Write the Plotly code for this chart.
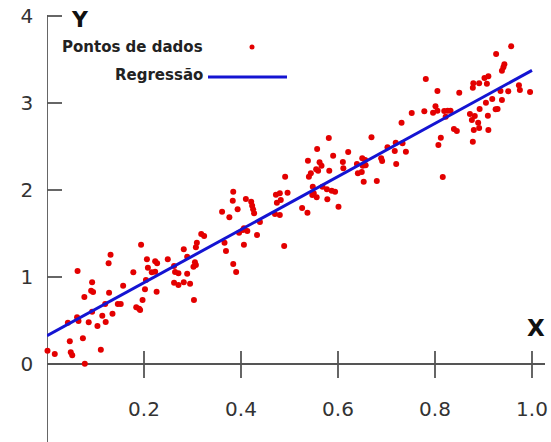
import plotly.graph_objects as go

# Observed data points (X, Y)
data_x = [
    0.194, 0.131, 0.127, 0.063, 0.206, 0.223, 0.227, 0.249, 0.208, 0.216,
    0.223, 0.178, 0.093, 0.091, 0.095, 0.077, 0.128, 0.157, 0.204, 0.226,
    0.202, 0.146, 0.152, 0.197, 0.184, 0.190, 0.192, 0.120, 0.093, 0.135,
    0.114, 0.062, 0.065, 0.043, 0.086, 0.104, 0.121, 0.074, 0.047, 0.111,
    0.001, 0.016, 0.049, 0.052, 0.078,
    0.491, 0.384, 0.383, 0.410, 0.421, 0.423, 0.425, 0.427, 0.393, 0.361,
    0.376, 0.472, 0.480, 0.474, 0.482, 0.496, 0.470, 0.480, 0.439, 0.406,
    0.413, 0.396, 0.404, 0.433, 0.406, 0.366, 0.369, 0.318, 0.324, 0.309,
    0.307, 0.282, 0.289, 0.305, 0.302, 0.307, 0.262, 0.264, 0.271, 0.289,
    0.262, 0.271, 0.282, 0.295, 0.384, 0.390, 0.303, 0.489,
    0.731, 0.669, 0.581, 0.557, 0.590, 0.621, 0.538, 0.562, 0.566, 0.555,
    0.559, 0.544, 0.540, 0.582, 0.610, 0.611, 0.639, 0.650, 0.656, 0.657,
    0.651, 0.641, 0.649, 0.653, 0.680, 0.689, 0.691, 0.702, 0.719, 0.717,
    0.733, 0.740, 0.720, 0.548, 0.550, 0.547, 0.568, 0.577, 0.587, 0.594,
    0.556, 0.578, 0.601, 0.526, 0.537, 0.752,
    0.957, 0.926, 0.943, 0.941, 0.938, 0.902, 0.910, 0.781, 0.879, 0.891,
    0.907, 0.878, 0.805, 0.850, 0.935, 0.951, 0.973, 0.975, 0.996, 0.938,
    0.918, 0.905, 0.892, 0.929, 0.925, 0.778, 0.801, 0.805, 0.796, 0.819,
    0.826, 0.832, 0.822, 0.872, 0.882, 0.876, 0.889, 0.891, 0.909, 0.910,
    0.880, 0.839, 0.845, 0.812, 0.807, 0.878, 0.816,
]
data_y = [
    1.371, 1.256, 1.157, 1.069, 1.203, 1.180, 1.157, 1.203, 1.107, 1.054,
    1.061, 1.054, 0.939, 0.843, 0.828, 0.770, 0.820, 0.900, 0.966, 0.831,
    0.859, 0.690, 0.690, 0.736, 0.652, 0.636, 0.621, 0.690, 0.601, 0.578,
    0.555, 0.537, 0.494, 0.475, 0.479, 0.437, 0.483, 0.295, 0.261, 0.164,
    0.153, 0.115, 0.134, 0.100, 0.003,
    2.153, 1.980, 1.877, 1.897, 1.866, 1.820, 1.778, 1.732, 1.778, 1.751,
    1.686, 1.946, 1.962, 1.854, 1.885, 1.969, 1.724, 1.713, 1.632, 1.560,
    1.529, 1.509, 1.540, 1.483, 1.371, 1.394, 1.299, 1.494, 1.471, 1.394,
    1.341, 1.318, 1.233, 1.169, 1.118, 1.138, 1.126, 1.057, 1.043, 1.038,
    0.934, 0.908, 0.939, 0.923, 1.149, 1.057, 0.736, 1.356,
    2.774, 2.606, 2.598, 2.471, 2.394, 2.437, 2.337, 2.318, 2.279, 2.238,
    2.222, 2.192, 2.153, 2.222, 2.322, 2.249, 2.299, 2.364, 2.345, 2.284,
    2.279, 2.192, 2.207, 2.095, 2.103, 2.364, 2.333, 2.491, 2.544, 2.448,
    2.537, 2.440, 2.299, 2.038, 1.962, 1.943, 2.038, 2.008, 1.992, 1.980,
    1.916, 1.893, 1.808, 1.793, 1.739, 2.885,
    3.652, 3.563, 3.445, 3.410, 3.371, 3.287, 3.307, 3.276, 3.226, 3.226,
    3.222, 3.176, 3.138, 3.118, 3.138, 3.134, 3.203, 3.149, 3.126, 3.034,
    3.046, 3.003, 2.931, 2.931, 2.928, 2.905, 2.962, 2.911, 2.889, 2.908,
    2.911, 2.911, 2.843, 2.874, 2.851, 2.805, 2.774, 2.713, 2.854, 2.690,
    2.690, 2.701, 2.678, 2.601, 2.517, 2.555, 2.149,
]

# Regression line end points
reg_x = [0.0, 1.0]
reg_y = [0.325, 3.375]

x_ticks = [0.2, 0.4, 0.6, 0.8, 1.0]
x_tick_text = ["0.2", "0.4", "0.6", "0.8", "1.0"]
y_ticks = [0, 1, 2, 3, 4]
y_tick_text = ["0", "1", "2", "3", "4"]

W, H = 551, 442
PX_PER_X = 485.0
PX_PER_Y = 87.0
AXIS_COLOR = "#555555"
TEXT_COLOR = "#333333"
FONT = "DejaVu Sans"
NBSP = "\u00a0"


def py(px_from_top):
    """Paper-y fraction for a distance from the top edge of the figure."""
    return 1 - px_from_top / H


# Plot frame: origin 47 px from the left and 364 px from the top
x_dom = [47 / W, 545 / W]
x_rng = [0, 498 / PX_PER_X]
y_dom = [0, py(15)]
y_rng = [-(H - 364) / PX_PER_Y, (364 - 15) / PX_PER_Y]

fig = go.Figure()

# Axis lines and tick marks, drawn in data units on the same axes
axis_x, axis_y = [], []
axis_x += [x_rng[0], x_rng[1], None]            # horizontal axis
axis_y += [0, 0, None]
axis_x += [0, 0, None]                          # vertical axis
axis_y += [y_rng[0], y_rng[1], None]
for tv in x_ticks:                              # x ticks cross the line
    axis_x += [tv, tv, None]
    axis_y += [-14 / PX_PER_Y, 13 / PX_PER_Y, None]
for tv in y_ticks:                              # y ticks point inward
    axis_x += [0, 15 / PX_PER_X, None]
    axis_y += [tv, tv, None]

fig.add_trace(go.Scatter(
    x=axis_x, y=axis_y, mode="lines",
    line=dict(color=AXIS_COLOR, width=1.8),
    cliponaxis=False, showlegend=False, hoverinfo="skip",
))
fig.add_trace(go.Scatter(
    x=data_x, y=data_y, mode="markers",
    marker=dict(size=6, color="#e30000", line=dict(width=0)),
    cliponaxis=False, showlegend=False, hoverinfo="skip",
))
fig.add_trace(go.Scatter(
    x=reg_x, y=reg_y, mode="lines",
    line=dict(color="#1414d2", width=3),
    cliponaxis=False, showlegend=False, hoverinfo="skip",
))

fig.update_layout(
    width=W, height=H,
    margin=dict(l=0, r=0, t=0, b=0, pad=0),
    paper_bgcolor="white", plot_bgcolor="white",
    font=dict(family=FONT, color=TEXT_COLOR),
    showlegend=False,
    xaxis=dict(
        domain=x_dom, range=x_rng, anchor="free", position=py(364),
        automargin=False, showline=False,
        # transparent ticks only set the label distance
        ticks="outside", ticklen=27, tickwidth=1, tickcolor="rgba(0,0,0,0)",
        tickvals=x_ticks, ticktext=x_tick_text,
        tickfont=dict(size=20, color=TEXT_COLOR, family=FONT),
        showgrid=False, zeroline=False, fixedrange=True,
    ),
    yaxis=dict(
        domain=y_dom, range=y_rng, anchor="x", automargin=False, showline=False,
        ticks="inside", ticklen=15, tickwidth=1, tickcolor="rgba(0,0,0,0)",
        tickvals=y_ticks, ticktext=[t + NBSP * 2 for t in y_tick_text],
        tickfont=dict(size=20, color=TEXT_COLOR, family=FONT),
        showgrid=False, zeroline=False, fixedrange=True,
    ),
)

# Axis titles
fig.add_annotation(text="<b>Y</b>", x=80 / W, y=py(20), xref="paper", yref="paper",
                   xanchor="center", yanchor="middle", showarrow=False,
                   font=dict(size=22, color="#111111", family=FONT))
fig.add_annotation(text="<b>X</b>", x=536 / W, y=py(328), xref="paper", yref="paper",
                   xanchor="center", yanchor="middle", showarrow=False,
                   font=dict(size=23, color="#111111", family=FONT))

# Legend
fig.add_annotation(text="<b>Pontos de dados</b>", x=205 / W, y=py(47),
                   xref="paper", yref="paper", xanchor="right", yanchor="middle",
                   showarrow=False, font=dict(size=15, color="#222222", family=FONT))
fig.add_annotation(text="<b>Regressão</b>", x=205 / W, y=py(75),
                   xref="paper", yref="paper", xanchor="right", yanchor="middle",
                   showarrow=False, font=dict(size=15, color="#222222", family=FONT))
fig.add_shape(type="circle", xref="paper", yref="paper",
              x0=249.5 / W, x1=254.5 / W, y0=py(49.5), y1=py(44.5),
              fillcolor="#e30000", line=dict(width=0))
fig.add_shape(type="line", xref="paper", yref="paper",
              x0=208 / W, x1=287 / W, y0=py(77), y1=py(77),
              line=dict(color="#1414d2", width=3))

fig.write_html("out.html")
